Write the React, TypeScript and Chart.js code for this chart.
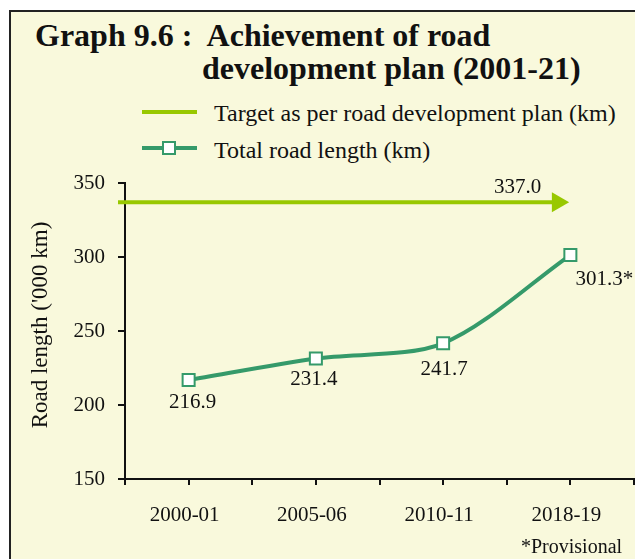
import React, { useEffect, useRef } from 'react';
import { Chart, registerables } from 'chart.js';

Chart.register(...registerables);

// ---------- data ----------
const CATEGORIES = ['2000-01', '2005-06', '2010-11', '2018-19'];
const CATEGORY_POSITIONS = [1, 3, 5, 7];
const ROAD_LENGTH = [216.9, 231.4, 241.7, 301.3];
const ROAD_LABELS = ['216.9', '231.4', '241.7', '301.3*'];
const TARGET_VALUE = 337.0;
const TARGET_SPAN = [-0.11, 6.8];
const X_RANGE = [0, 8];
const Y_RANGE = [150, 350];
const Y_STEP = 50;

// ---------- style ----------
const FONT = '"Liberation Serif", "Times New Roman", serif';
const TEXT = '#111111';
const ROAD_GREEN = '#359a6a';
const TARGET_GREEN = '#98c800';
const CREAM = '#f9f9dc';
const LABEL_OFFSETS = [
  { dx: 4, dy: 28, align: 'center' },
  { dx: -2, dy: 26, align: 'center' },
  { dx: 1, dy: 32, align: 'center' },
  { dx: 5, dy: 30, align: 'left' },
];

const labelPlugin = {
  id: 'customLabels',
  afterDatasetsDraw(chart: any) {
    const ctx = chart.ctx;
    ctx.save();
    ctx.fillStyle = TEXT;
    ctx.font = `21px ${FONT}`;
    ctx.textBaseline = 'alphabetic';
    const meta = chart.getDatasetMeta(1);
    meta.data.forEach((pt: any, i: number) => {
      const o = LABEL_OFFSETS[i];
      ctx.textAlign = o.align;
      ctx.fillText(ROAD_LABELS[i], pt.x + o.dx, pt.y + o.dy);
    });
    const tmeta = chart.getDatasetMeta(0);
    const end = tmeta.data[tmeta.data.length - 1];
    ctx.textAlign = 'center';
    ctx.fillText(TARGET_VALUE.toFixed(1), end.x - 40, end.y - 9);

    const { top, bottom } = chart.chartArea;
    ctx.translate(41, (top + bottom) / 2 - 6);
    ctx.rotate(-Math.PI / 2);
    ctx.font = `23px ${FONT}`;
    ctx.textBaseline = 'middle';
    ctx.textAlign = 'center';
    ctx.fillText("Road length ('000 km)", 0, 0);
    ctx.restore();
  },
};

function RoadChart() {
  const ref = useRef<HTMLCanvasElement>(null);
  useEffect(() => {
    if (!ref.current) return;
    const chart = new Chart(ref.current, {
      type: 'line',
      data: {
        datasets: [
          {
            label: 'Target as per road development plan (km)',
            data: TARGET_SPAN.map((x) => ({ x, y: TARGET_VALUE })),
            borderColor: TARGET_GREEN,
            backgroundColor: TARGET_GREEN,
            borderWidth: 4,
            pointStyle: 'triangle',
            pointRotation: 90,
            pointRadius: [0, 11.5],
            pointBorderWidth: 0,
            pointBackgroundColor: TARGET_GREEN,
            clip: false,
          } as any,
          {
            label: 'Total road length (km)',
            data: CATEGORY_POSITIONS.map((x, i) => ({ x, y: ROAD_LENGTH[i] })),
            borderColor: ROAD_GREEN,
            borderWidth: 4,
            tension: 0.3,
            pointStyle: 'rect',
            pointRadius: 8.5,
            pointBorderWidth: 2,
            pointBorderColor: ROAD_GREEN,
            pointBackgroundColor: '#ffffff',
            clip: false,
          } as any,
        ],
      },
      options: {
        animation: false,
        responsive: false,
        devicePixelRatio: 1,
        layout: { autoPadding: false, padding: { left: 0, top: 183, right: 1, bottom: 0 } },
        plugins: {
          legend: { display: false },
          tooltip: { enabled: false },
          title: { display: false },
        },
        scales: {
          x: {
            type: 'linear',
            min: X_RANGE[0],
            max: X_RANGE[1],
            afterBuildTicks: (s: any) => {
              const t = [];
              for (let v = X_RANGE[0]; v <= X_RANGE[1]; v++) t.push({ value: v });
              s.ticks = t;
            },
            afterFit: (s: any) => {
              s.height = 80;
              s.paddingLeft = 0;
              s.paddingRight = 0;
            },
            ticks: {
              autoSkip: false,
              maxRotation: 0,
              labelOffset: -4,
              callback: (v: any) => {
                const i = CATEGORY_POSITIONS.indexOf(v);
                return i >= 0 ? CATEGORIES[i] : '';
              },
              font: { family: FONT, size: 21 },
              color: TEXT,
              padding: 18,
            },
            grid: {
              drawOnChartArea: false,
              drawTicks: true,
              tickLength: 6,
              color: TEXT,
              lineWidth: 2,
            },
            border: { color: TEXT, width: 2 },
          },
          y: {
            min: Y_RANGE[0],
            max: Y_RANGE[1],
            afterFit: (s: any) => {
              s.width = 125;
              s.paddingTop = 0;
              s.paddingBottom = 0;
            },
            ticks: {
              stepSize: Y_STEP,
              font: { family: FONT, size: 21 },
              color: TEXT,
              padding: 13,
            },
            grid: {
              drawOnChartArea: false,
              drawTicks: true,
              tickLength: 7,
              color: TEXT,
              lineWidth: 2,
            },
            border: { color: TEXT, width: 2 },
          },
        },
      } as any,
      plugins: [labelPlugin],
    });
    return () => chart.destroy();
  }, []);
  return (
    <canvas
      ref={ref}
      width={635}
      height={559}
      style={{ position: 'absolute', left: 0, top: 0, width: 635, height: 559 }}
    />
  );
}

export default function App() {
  const textBase: React.CSSProperties = {
    position: 'absolute',
    fontFamily: FONT,
    color: TEXT,
    whiteSpace: 'nowrap',
    margin: 0,
  };
  return (
    <div
      style={{
        position: 'absolute',
        left: 0,
        top: 0,
        width: 635,
        height: 559,
        overflow: 'hidden',
        background: '#ffffff',
      }}
    >
      <div
        style={{
          position: 'absolute',
          left: 9,
          top: 10,
          width: 700,
          height: 700,
          border: '2px solid #222',
          background: CREAM,
        }}
      />
      <div style={{ ...textBase, left: 35, top: 19, fontSize: 32, lineHeight: '32px', fontWeight: 'bold' }}>
        Graph 9.6 :&nbsp; Achievement of road
      </div>
      <div style={{ ...textBase, left: 202, top: 52, fontSize: 32, lineHeight: '32px', fontWeight: 'bold' }}>
        development plan (2001-21)
      </div>

      <div style={{ position: 'absolute', left: 142, top: 110, width: 55, height: 4, background: TARGET_GREEN }} />
      <div style={{ ...textBase, left: 214, top: 101, fontSize: 24, lineHeight: '24px' }}>
        Target as per road development plan (km)
      </div>

      <div style={{ position: 'absolute', left: 142, top: 146, width: 55, height: 4, background: ROAD_GREEN }} />
      <div
        style={{
          position: 'absolute',
          left: 162,
          top: 141,
          width: 10,
          height: 10,
          border: `2px solid ${ROAD_GREEN}`,
          background: '#ffffff',
        }}
      />
      <div style={{ ...textBase, left: 214, top: 138, fontSize: 24, lineHeight: '24px' }}>
        Total road length (km)
      </div>

      <RoadChart />

      <div style={{ ...textBase, left: 521, top: 536, fontSize: 20, lineHeight: '20px' }}>*Provisional</div>
    </div>
  );
}
